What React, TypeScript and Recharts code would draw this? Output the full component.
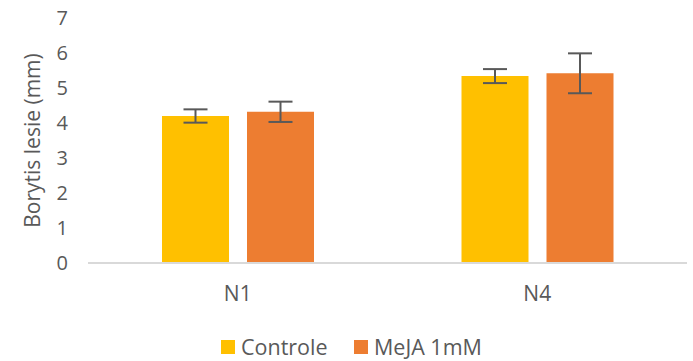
import React from "react";
import { BarChart, Bar, XAxis, YAxis, ErrorBar, Legend } from "recharts";

const categories = ["N1", "N4"];
const controle = [4.2, 5.34];
const controleErr = [0.19, 0.2];
const meja = [4.32, 5.42];
const mejaErr = [0.29, 0.57];
const yTicks = [0, 1, 2, 3, 4, 5, 6, 7];
const seriesNames = ["Controle", "MeJA 1mM"];
const yAxisTitle = "Borytis lesie (mm)";
const colors = ["#FFC000", "#ED7D31"];

const data = categories.map((c, i) => ({
  name: c,
  controle: controle[i],
  controleErr: controleErr[i],
  meja: meja[i],
  mejaErr: mejaErr[i],
}));

const FONT = "'Open Sans', sans-serif";
const GRAY = "#595959";

const LegendContent = () => (
  <div
    style={{
      position: "relative",
      height: 38,
      fontFamily: FONT,
      fontSize: 21.5,
      color: GRAY,
    }}
  >
    {seriesNames.map((n, i) => (
      <div
        key={n}
        style={{
          position: "absolute",
          left: i === 0 ? 221 : 354,
          top: 9,
          height: 30,
          display: "flex",
          alignItems: "center",
          whiteSpace: "nowrap",
          lineHeight: "30px",
        }}
      >
        <div style={{ width: 14, height: 14, background: colors[i], marginRight: 6 }} />
        <span>{n}</span>
      </div>
    ))}
  </div>
);

const YTitle = (props: any) => {
  const vb = props.viewBox || {};
  const cy = (vb.y || 0) + (vb.height || 0) / 2;
  const x = 40;
  return (
    <text
      x={x}
      y={cy}
      transform={`rotate(-90 ${x} ${cy})`}
      textAnchor="middle"
      fill={GRAY}
      fontSize={21}
      fontFamily={FONT}
    >
      {yAxisTitle}
    </text>
  );
};

export default function App() {
  return (
    <div style={{ position: "absolute", left: 0, top: 0, background: "#fff" }}>
      <BarChart
        width={693}
        height={361}
        data={data}
        margin={{ top: 18, right: 6, left: 0, bottom: 0 }}
        barGap={18}
        barSize={67}
      >
        <XAxis
          dataKey="name"
          tickLine={false}
          axisLine={{ stroke: "#D9D9D9", strokeWidth: 2 }}
          tick={{ fill: GRAY, fontSize: 21, fontFamily: FONT }}
          height={60}
          tickMargin={17}
        />
        <YAxis
          domain={[0, 7]}
          ticks={yTicks}
          interval={0}
          axisLine={false}
          tickLine={false}
          width={88}
          tickMargin={14}
          tick={{ fill: GRAY, fontSize: 20, fontFamily: FONT }}
          label={<YTitle />}
        />
        <Legend verticalAlign="bottom" height={38} content={<LegendContent />} />
        <Bar dataKey="controle" name={seriesNames[0]} fill={colors[0]} isAnimationActive={false}>
          <ErrorBar dataKey="controleErr" width={12} stroke={GRAY} strokeWidth={2} />
        </Bar>
        <Bar dataKey="meja" name={seriesNames[1]} fill={colors[1]} isAnimationActive={false}>
          <ErrorBar dataKey="mejaErr" width={12} stroke={GRAY} strokeWidth={2} />
        </Bar>
      </BarChart>
    </div>
  );
}
